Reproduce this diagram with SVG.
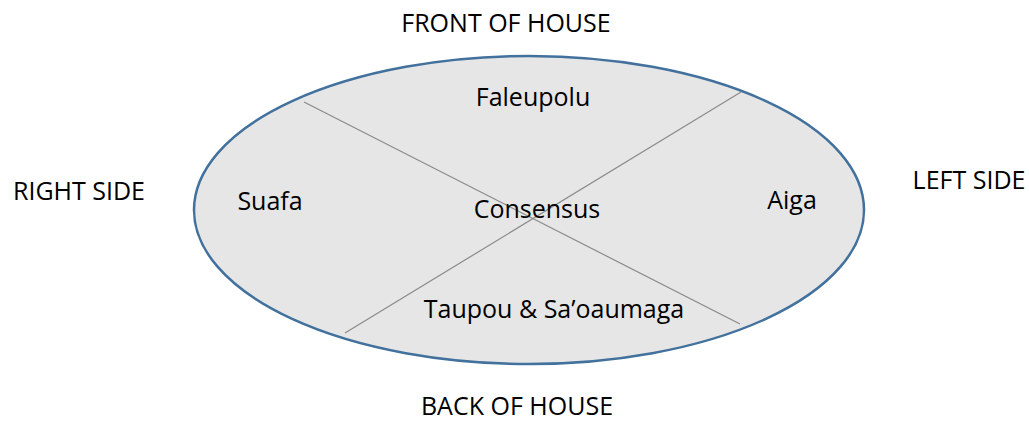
<svg xmlns="http://www.w3.org/2000/svg" width="1029" height="421" viewBox="0 0 1029 421">
<style>
text{font-family:"Open Sans","Liberation Sans",sans-serif;font-size:25px;fill:#000;}
.c{text-anchor:middle;}
.div{stroke:#8a8a8a;stroke-width:1.2;fill:none;}
</style>
<rect width="1029" height="421" fill="#fff"/>
<g id="house">
<ellipse cx="529" cy="210" rx="335" ry="154" fill="#e6e6e6" stroke="#41719c" stroke-width="2.5"/>
</g>
<g id="connectors">
<line class="div" x1="304" y1="102" x2="740" y2="324"/>
<line class="div" x1="741" y1="92" x2="345" y2="333"/>
</g>
<g id="labels-outer">
<text class="c" x="506" y="32">FRONT OF HOUSE</text>
<text class="c" x="517" y="415">BACK OF HOUSE</text>
<text class="c" x="79" y="200">RIGHT SIDE</text>
<text class="c" x="969" y="189">LEFT SIDE</text>
</g>
<g id="faleupolu"><text class="c" x="533" y="106">Faleupolu</text></g>
<g id="suafa"><text class="c" x="270" y="210">Suafa</text></g>
<g id="consensus"><text class="c" x="537" y="218">Consensus</text></g>
<g id="aiga"><text class="c" x="792" y="209">Aiga</text></g>
<g id="taupou"><text class="c" x="554" y="318">Taupou &amp; Sa’oaumaga</text></g>
</svg>
